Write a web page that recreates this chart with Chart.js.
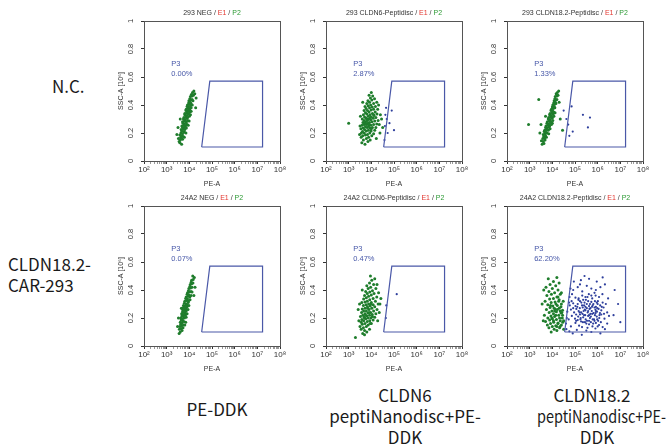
<!DOCTYPE html>
<html>
<head>
<meta charset="utf-8">
<script src="https://cdn.jsdelivr.net/npm/chart.js@4.4.0/dist/chart.umd.min.js"></script>
<style>
body{margin:0;background:#fff;}
#page{position:relative;width:669px;height:448px;overflow:hidden;background:#fff;}
canvas{position:absolute;}
.tt{position:absolute;font:7px "Liberation Sans",Arial,sans-serif;color:#333;text-align:center;white-space:nowrap;line-height:9px;}
.tt .r{color:#e2362f}.tt .g{color:#2c9a34}
.big{position:absolute;font-family:"Noto Sans CJK SC","Noto Sans",sans-serif;font-size:17px;color:#1a1a1a;white-space:nowrap;line-height:21px;}
.ctr{width:200px;text-align:center;}
</style>
</head>
<body>
<div id="page">
  <div class="big" style="left:52px;top:75px">N.C.</div>
  <div class="big" style="left:8px;top:253px">CLDN18.2-<br>CAR-293</div>
  <div class="big ctr" style="left:117px;top:398px">PE-DDK</div>
  <div class="big ctr" style="left:305px;top:384px">CLDN6<br>peptiNanodisc+PE-<br>DDK</div>
  <div class="big ctr" style="left:492px;top:384px">CLDN18.2</div>
  <div class="big" style="left:537px;top:405px;transform:scaleX(0.85);transform-origin:0 0">peptiNanodisc+PE-</div>
  <div class="big ctr" style="left:497px;top:426px">DDK</div>
</div>
<script>
// samples shown in each panel
const titles = ['293 NEG', '293 CLDN6-Peptidisc', '293 CLDN18.2-Peptidisc',
                '24A2 NEG', '24A2 CLDN6-Peptidisc', '24A2 CLDN18.2-Peptidisc'];
const gatePct = ['0.00%', '2.87%', '1.33%', '0.07%', '0.47%', '62.20%'];

// axis ticks
const xTickVals = [1e2, 1e3, 1e4, 1e5, 1e6, 1e7, 1e8];
const xTickLabels = ['10²', '10³', '10⁴', '10⁵', '10⁶', '10⁷', '10⁸'];
const yTickVals = [0, 0.2, 0.4, 0.6, 0.8, 1];
const yTickLabels = ['0', '0.2', '0.4', '0.6', '0.8', '1'];

// P3 gate (PE-A, SSC-A)
const gateX = [3.5e4, 8e4, 1.7e7, 1.7e7, 3.5e4];
const gateY = [0.1, 0.57, 0.57, 0.1, 0.1];

// events: [log10 PE-A, SSC-A x10^6]
const ncNeg = [[3.58,.13],[3.66,.12],[3.55,.14],[3.6,.15],[3.7,.155],[3.64,.16],[3.52,.16],[3.62,.17],[3.73,.175],[3.67,.18],[3.78,.17],[3.58,.185],
  [3.63,.2],[3.7,.195],[3.79,.205],[3.74,.21],[3.66,.215],[3.85,.2],[3.64,.225],[3.72,.23],[3.8,.225],[3.87,.235],[3.77,.24],[3.69,.245],
  [3.67,.25],[3.75,.255],[3.83,.25],[3.9,.26],[3.79,.265],[3.72,.27],[3.95,.255],[3.86,.275],[3.7,.28],[3.78,.285],[3.85,.28],[3.93,.29],[3.82,.295],[3.99,.285],[3.74,.3],[3.89,.305],
  [3.76,.31],[3.84,.315],[3.92,.31],[4,.32],[3.88,.325],[3.8,.33],[3.96,.335],[4.05,.33],[3.8,.34],[3.88,.345],[3.96,.34],[4.03,.35],[3.92,.355],[3.85,.36],[4,.365],[4.08,.355],
  [3.86,.37],[3.94,.375],[4.01,.37],[4.08,.38],[3.97,.385],[3.9,.39],[4.05,.395],[3.92,.4],[4,.405],[4.07,.41],[4.13,.4],[3.97,.415],[4.04,.42],
  [3.98,.43],[4.06,.435],[4.12,.44],[4.02,.445],[4.16,.43],[4.05,.46],[4.12,.465],[4.18,.47],[4.09,.475],[4.14,.49],[4.2,.5],[4.24,.48],
  [3.45,.19],[3.5,.24],[4.28,.38],[4.3,.45],[3.6,.3]];
const ncCldn6 = [[3.58,.13],[3.72,.12],[3.85,.14],[3.65,.15],[3.95,.15],[3.78,.16],[3.55,.17],[3.88,.17],[3.62,.18],[3.74,.185],[4.02,.18],[3.83,.19],[3.56,.2],[3.69,.2],[3.93,.2],[4.1,.195],
  [3.61,.21],[3.78,.215],[3.87,.22],[3.99,.215],[3.7,.225],[4.15,.22],[3.54,.23],[3.64,.235],[3.82,.24],[3.93,.235],[4.05,.24],[3.74,.245],[4.2,.24],[3.88,.25],
  [3.59,.255],[3.69,.26],[3.79,.26],[3.98,.255],[4.1,.26],[3.85,.27],[4.24,.265],[3.63,.275],[3.75,.28],[3.92,.275],[4.03,.28],[4.15,.285],[3.68,.29],[3.83,.29],[3.97,.295],[4.3,.29],
  [3.6,.3],[3.77,.305],[3.9,.3],[4.08,.305],[4.2,.31],[3.7,.315],[3.86,.32],[4,.315],[4.12,.325],[3.65,.33],[3.8,.335],[3.94,.33],[4.25,.335],[3.74,.345],[4.05,.34],[3.9,.35],
  [4.17,.35],[3.68,.36],[3.83,.36],[3.99,.365],[4.1,.37],[3.77,.375],[4.28,.37],[3.92,.38],[4.04,.385],[3.72,.39],[3.86,.395],[4.18,.39],[3.97,.4],[3.8,.41],[4.1,.41],[3.92,.42],
  [4.24,.42],[3.85,.43],[4.02,.435],[3.96,.45],[4.14,.445],[3.9,.47],[4.06,.465],[4,.49],[3.5,.25],[3.48,.19],[3.52,.32],[4.35,.26],[4.4,.33],[4.38,.2],[4.45,.3],[4.32,.4],
  [3.62,.42],[4.22,.16],[4.5,.24],[3,.27],[3.8,.3],[3.9,.26],[4,.23],[3.72,.27],[4.1,.33],[3.95,.31]];
const ncCldn6Gated = [[4.6,.25],[4.68,.3],[4.72,.2],[4.9,.36],[4.65,.38],[4.58,.15],[5,.22],[4.8,.27],[4.62,.33]];
const ncCldn18 = [[3.55,.12],[3.63,.125],[3.6,.14],[3.52,.145],[3.68,.15],[3.58,.16],[3.66,.165],[3.74,.17],[3.62,.175],[3.7,.18],[3.6,.19],[3.68,.195],[3.76,.2],[3.84,.195],[3.72,.205],[3.64,.21],
  [3.66,.22],[3.74,.225],[3.82,.22],[3.9,.23],[3.78,.235],[3.7,.24],[3.86,.245],[3.72,.25],[3.8,.255],[3.88,.25],[3.96,.26],[3.84,.265],[3.76,.27],[3.92,.275],[4,.27],
  [3.78,.28],[3.86,.285],[3.94,.28],[4.02,.29],[3.9,.295],[3.82,.3],[3.98,.305],[3.84,.31],[3.92,.315],[4,.31],[4.07,.32],[3.96,.325],[3.88,.33],[4.04,.335],
  [3.9,.34],[3.98,.345],[4.06,.35],[4.12,.345],[4.02,.355],[3.94,.36],[3.96,.37],[4.04,.375],[4.11,.38],[4,.385],[4.08,.39],[4.02,.4],[4.1,.405],[4.16,.41],[4.06,.415],[4.13,.42],
  [4.08,.43],[4.15,.435],[4.2,.44],[4.11,.445],[4.13,.46],[4.2,.465],[4.25,.47],[4.17,.48],[4.22,.49],[4.28,.5],[3.45,.2],[3.5,.26],[4.3,.42],[4.35,.3],[3.7,.32],[2.95,.26],[3.4,.44],[4.45,.22]];
const ncCldn18Gated = [[4.7,.26],[4.85,.39],[4.9,.21],[5.35,.33],[5.66,.31],[5.57,.24],[4.62,.3],[4.75,.18],[4.5,.36]];
const carNeg = [[3.6,.1],[3.68,.11],[3.56,.12],[3.64,.125],[3.72,.13],[3.58,.14],[3.66,.145],[3.74,.15],[3.62,.155],[3.8,.15],[3.6,.17],[3.68,.165],[3.76,.175],[3.7,.18],[3.84,.17],[3.64,.185],
  [3.62,.2],[3.7,.195],[3.78,.2],[3.86,.205],[3.74,.21],[3.67,.215],[3.82,.22],[3.66,.23],[3.74,.225],[3.82,.235],[3.9,.23],[3.78,.24],[3.7,.245],[3.86,.25],
  [3.7,.26],[3.78,.255],[3.86,.265],[3.94,.26],[3.82,.27],[3.74,.275],[3.9,.28],[3.74,.29],[3.82,.285],[3.9,.295],[3.98,.29],[3.86,.3],[3.78,.305],[3.95,.31],
  [3.8,.32],[3.88,.325],[3.96,.32],[4.03,.33],[3.92,.335],[3.84,.34],[3.86,.35],[3.94,.355],[4.02,.35],[4.08,.36],[3.98,.365],[3.9,.37],
  [3.92,.38],[4,.385],[4.07,.39],[3.96,.395],[4.12,.385],[3.98,.41],[4.05,.415],[4.12,.42],[4.02,.425],[4.04,.44],[4.1,.445],[4.16,.45],[4.08,.455],
  [4.1,.47],[4.17,.475],[4.22,.49],[4.15,.5],[3.48,.14],[3.52,.2],[4.25,.42],[3.65,.27],[3.55,.09],[4.2,.36]];
const carCldn6 = [[3.62,.09],[3.8,.1],[3.7,.11],[3.55,.12],[3.92,.12],[3.65,.13],[3.78,.14],[3.5,.14],[3.86,.15],[3.6,.155],[3.72,.16],[4,.16],[3.55,.17],[3.82,.175],[3.66,.18],[3.93,.18],
  [4.08,.185],[3.58,.19],[3.75,.195],[3.86,.2],[3.98,.2],[3.68,.205],[4.15,.205],[3.52,.21],[3.8,.215],[3.62,.22],[3.92,.22],[4.04,.225],[3.72,.23],[3.85,.235],[4.2,.23],[3.57,.24],
  [3.97,.24],[3.66,.25],[3.78,.25],[4.1,.25],[3.9,.26],[4.25,.26],[3.6,.265],[3.72,.27],[4.02,.27],[3.83,.28],[3.95,.285],[4.15,.28],[3.65,.29],[3.77,.295],[4.08,.295],[3.88,.3],
  [4.3,.3],[3.58,.31],[3.72,.315],[4,.31],[3.82,.32],[4.18,.32],[3.93,.33],[3.66,.335],[4.08,.34],[3.78,.345],[3.88,.355],[4.24,.35],[3.7,.36],[4,.365],[3.82,.375],[4.12,.375],
  [3.93,.385],[3.75,.39],[4.05,.395],[3.86,.41],[4.2,.41],[3.97,.42],[3.8,.43],[4.1,.44],[3.92,.45],[4.02,.47],[4.15,.48],[3.96,.5],
  [3.45,.18],[3.42,.26],[3.48,.3],[4.35,.24],[4.38,.3],[4.32,.38],[4.42,.34],[4.28,.18],[3.6,.4],[4.25,.44],[3.7,.08],[3.75,.22],[3.9,.24],[3.84,.27],[3.98,.3],[3.7,.2],[4.05,.21],[3.95,.16],[3.3,.06]];
const carCldn6Gated = [[5.12,.37],[4.64,.2],[4.66,.29]];
const carCldn18 = [[3.95,.1],[4.2,.11],[4.08,.12],[3.85,.13],[4.32,.13],[4,.14],[4.15,.145],[3.78,.15],[4.4,.15],[3.92,.16],[4.25,.165],[4.06,.17],[3.7,.175],[4.35,.18],[3.88,.185],[4.18,.19],
  [4,.195],[4.44,.2],[3.8,.2],[4.1,.21],[3.94,.215],[4.28,.22],[3.65,.22],[4.05,.23],[4.38,.235],[3.86,.24],[4.18,.245],[3.98,.25],[4.45,.255],[3.74,.26],[4.12,.265],[4.3,.27],
  [3.9,.275],[4.02,.285],[4.22,.29],[3.8,.295],[4.4,.3],[3.95,.31],[4.12,.315],[3.68,.32],[4.3,.33],[3.88,.335],[4.05,.34],[4.2,.35],[3.76,.36],[3.96,.37],[4.35,.37],[4.1,.38],
  [3.85,.39],[4.25,.4],[4,.41],[3.72,.42],[4.15,.43],[3.9,.44],[4.3,.45],[4.05,.46],[3.82,.48],[4.2,.49],
  [3.55,.3],[3.6,.18],[3.62,.4],[4.5,.18],[4.48,.32],[4.5,.12],[3.98,.2],[4.15,.22],[4.08,.27],[4.25,.16],[3.92,.29],[4.35,.25],
  [4.22,.26],[4.32,.2],[4.42,.24],[4.38,.28],[4.28,.32],[4.16,.3],[4.46,.17],[4.2,.14],[4.1,.25],[4.25,.35],[4.4,.38],[4.34,.14],[4.05,.18],[4.45,.22]];
const carCldn18Gated = [[4.62,.12],[4.9,.09],[5.3,.08],[5.72,.1],[6.12,.09],[5.08,.115],[5.5,.11],[6.32,.12],[4.75,.105],[5.9,.125],
  [4.6,.16],[4.82,.14],[5.02,.165],[5.18,.145],[5.31,.135],[5.44,.17],[5.62,.155],[5.77,.14],[5.92,.165],[6.06,.15],[6.22,.135],[6.42,.16],[5.27,.175],[5.55,.13],[5.86,.18],[5.7,.17],[6,.14],
  [4.64,.2],[4.72,.19],[4.86,.215],[5,.195],[5.12,.185],[5.22,.225],[5.36,.205],[5.47,.19],[5.58,.215],[5.66,.2],[5.76,.23],[5.84,.19],[5.96,.21],[6.07,.2],[6.16,.225],[6.3,.195],[6.5,.215],[5.05,.225],[5.62,.18],[5.91,.235],[6.02,.18],[5.4,.22],[5.7,.21],
  [4.66,.245],[4.82,.26],[4.96,.24],[5.06,.265],[5.16,.25],[5.27,.24],[5.34,.275],[5.46,.255],[5.56,.24],[5.64,.265],[5.74,.25],[5.86,.275],[5.97,.245],[6.04,.265],[6.16,.255],[6.26,.275],[6.42,.24],[5.52,.27],[5.82,.235],[6.1,.235],[5.21,.27],[5.9,.26],
  [4.74,.31],[4.77,.29],[4.92,.305],[5.02,.285],[5.12,.3],[5.22,.32],[5.31,.29],[5.42,.31],[5.52,.3],[5.62,.285],[5.72,.315],[5.81,.3],[5.92,.28],[6.01,.32],[6.11,.29],[6.22,.31],[6.36,.3],[5.46,.28],[5.96,.31],[5.66,.3],
  [4.76,.35],[4.87,.37],[5.02,.345],[5.16,.34],[5.32,.36],[5.46,.35],[5.61,.37],[5.76,.34],[5.91,.36],[6.06,.35],[6.21,.37],[6.46,.34],[5.36,.33],[5.86,.38],
  [4.8,.41],[4.92,.4],[5.12,.42],[5.32,.39],[5.52,.43],[5.72,.41],[5.92,.4],[6.12,.42],[6.32,.44],[5.22,.44],
  [4.95,.46],[5.26,.47],[5.62,.48],[5.96,.46],[6.22,.49],[5.42,.5],[7,.17],[6.9,.3],[6.7,.22],[6.75,.4],
  [5.05,.18],[5.14,.21],[5.24,.19],[5.33,.23],[5.43,.26],[5.53,.18],[5.58,.25],[5.68,.23],[5.78,.19],[5.88,.22],[5.98,.27],[6.08,.22],[5.1,.28],[5.28,.31],[5.38,.25],[5.48,.33],
  [5.58,.32],[5.68,.27],[5.78,.29],[5.88,.32],[5.98,.19],[6.18,.28],[6.28,.23],[5.15,.33],[5.25,.2],[5.5,.16],[5.8,.16],[6.14,.17],[5.35,.17],[4.92,.27],[4.85,.32],[5.72,.36],
  [5.55,.35],[6,.3],[5.4,.29],[5.62,.22],[5.92,.25],[5.2,.24],[5.45,.22],[5.75,.28]];

const panels = [
  {ungated: ncNeg, gated: []},
  {ungated: ncCldn6, gated: ncCldn6Gated},
  {ungated: ncCldn18, gated: ncCldn18Gated},
  {ungated: carNeg, gated: []},
  {ungated: carCldn6, gated: carCldn6Gated},
  {ungated: carCldn18, gated: carCldn18Gated}
];

const colLeft = [144, 326, 507];
const rowTop = [21, 206];
const plotW = 136, plotH = 140;
const page = document.getElementById('page');

function toXY(arr) {
  return arr.map(p => ({x: Math.pow(10, p[0]), y: p[1]}));
}

// frame, vertical y tick labels and the P3 label
function flowPlugin(pct) {
  return {
    id: 'flow',
    afterDraw(chart) {
      const c = chart.ctx, a = chart.chartArea;
      const xs = chart.scales.x, ys = chart.scales.y;
      c.save();
      c.strokeStyle = '#555';
      c.lineWidth = 1;
      c.strokeRect(Math.round(a.left) + 0.5, Math.round(a.top) + 0.5, Math.round(a.right - a.left), Math.round(a.bottom - a.top));
      c.fillStyle = '#333';
      c.font = '7.5px "Liberation Sans", Arial, sans-serif';
      c.textAlign = 'center';
      c.textBaseline = 'middle';
      for (let i = 0; i < yTickVals.length; i++) {
        c.save();
        c.translate(a.left - 13, ys.getPixelForValue(yTickVals[i]));
        c.rotate(-Math.PI / 2);
        c.fillText(yTickLabels[i], 0, 0);
        c.restore();
      }
      c.fillStyle = '#4657a8';
      c.font = '7.5px "Liberation Sans", Arial, sans-serif';
      c.textAlign = 'left';
      const px = xs.getPixelForValue(Math.pow(10, 3.2));
      c.fillText('P3', px, ys.getPixelForValue(0.69));
      c.fillText(pct, px, ys.getPixelForValue(0.625));
      c.restore();
    }
  };
}

panels.forEach((p, i) => {
  const L = colLeft[i % 3], T = rowTop[Math.floor(i / 3)];
  const cv = document.createElement('canvas');
  cv.width = 44 + plotW + 12;
  cv.height = 21 + plotH + 32;
  cv.style.left = (L - 44) + 'px';
  cv.style.top = (T - 21) + 'px';
  page.appendChild(cv);

  const t = document.createElement('div');
  t.className = 'tt';
  t.style.left = L + 'px';
  t.style.width = plotW + 'px';
  t.style.top = (T - 13) + 'px';
  t.innerHTML = titles[i] + ' / <span class="r">E1</span> / <span class="g">P2</span>';
  page.appendChild(t);

  new Chart(cv, {
    type: 'scatter',
    data: {
      datasets: [
        {
          data: gateX.map((x, k) => ({x: x, y: gateY[k]})),
          showLine: true,
          borderColor: '#4a58a8',
          borderWidth: 1.2,
          pointRadius: 0,
          fill: false,
          order: 0
        },
        {
          data: toXY(p.gated),
          backgroundColor: '#2e3f9c',
          pointRadius: 1.1,
          borderWidth: 0,
          order: 1
        },
        {
          data: toXY(p.ungated),
          backgroundColor: '#1f7d2c',
          pointRadius: 1.5,
          borderWidth: 0,
          order: 2
        }
      ]
    },
    options: {
      responsive: false,
      animation: false,
      events: [],
      layout: {padding: {left: 0, top: 21, right: 12, bottom: 0}},
      plugins: {legend: {display: false}, tooltip: {enabled: false}},
      scales: {
        x: {
          type: 'logarithmic',
          min: 1e2,
          max: 1e8,
          afterBuildTicks(scale) {
            const ticks = [];
            for (let n = 2; n < 8; n++) {
              for (let k = 1; k < 10; k++) ticks.push({value: k * Math.pow(10, n)});
            }
            ticks.push({value: 1e8});
            scale.ticks = ticks;
          },
          afterFit(scale) { scale.height = 32; },
          grid: {
            drawOnChartArea: false,
            drawTicks: true,
            tickLength: 3,
            tickColor: ctx => xTickVals.indexOf(ctx.tick.value) >= 0 ? '#333' : '#999'
          },
          border: {display: true, color: '#222', width: 1},
          ticks: {
            autoSkip: false,
            maxRotation: 0,
            padding: 1,
            color: '#333',
            font: {size: 8, family: '"Liberation Sans", Arial, sans-serif'},
            callback(v) {
              const k = xTickVals.indexOf(v);
              return k >= 0 ? xTickLabels[k] : '';
            }
          },
          title: {
            display: true,
            text: 'PE-A',
            color: '#333',
            font: {size: 7, family: '"Liberation Sans", Arial, sans-serif'},
            padding: {top: 0, bottom: 5}
          }
        },
        y: {
          min: 0,
          max: 1,
          afterBuildTicks(scale) {
            scale.ticks = yTickVals.map(v => ({value: v}));
          },
          afterFit(scale) { scale.width = 44; },
          grid: {drawOnChartArea: false, drawTicks: true, tickLength: 3, tickColor: '#333'},
          border: {display: true, color: '#222', width: 1},
          ticks: {display: false},
          title: {
            display: true,
            text: 'SSC-A [10⁶]',
            color: '#333',
            font: {size: 7, family: '"Liberation Sans", Arial, sans-serif'},
            padding: {top: 17, bottom: 0}
          }
        }
      }
    },
    plugins: [flowPlugin(gatePct[i])]
  });
});
</script>
</body>
</html>
